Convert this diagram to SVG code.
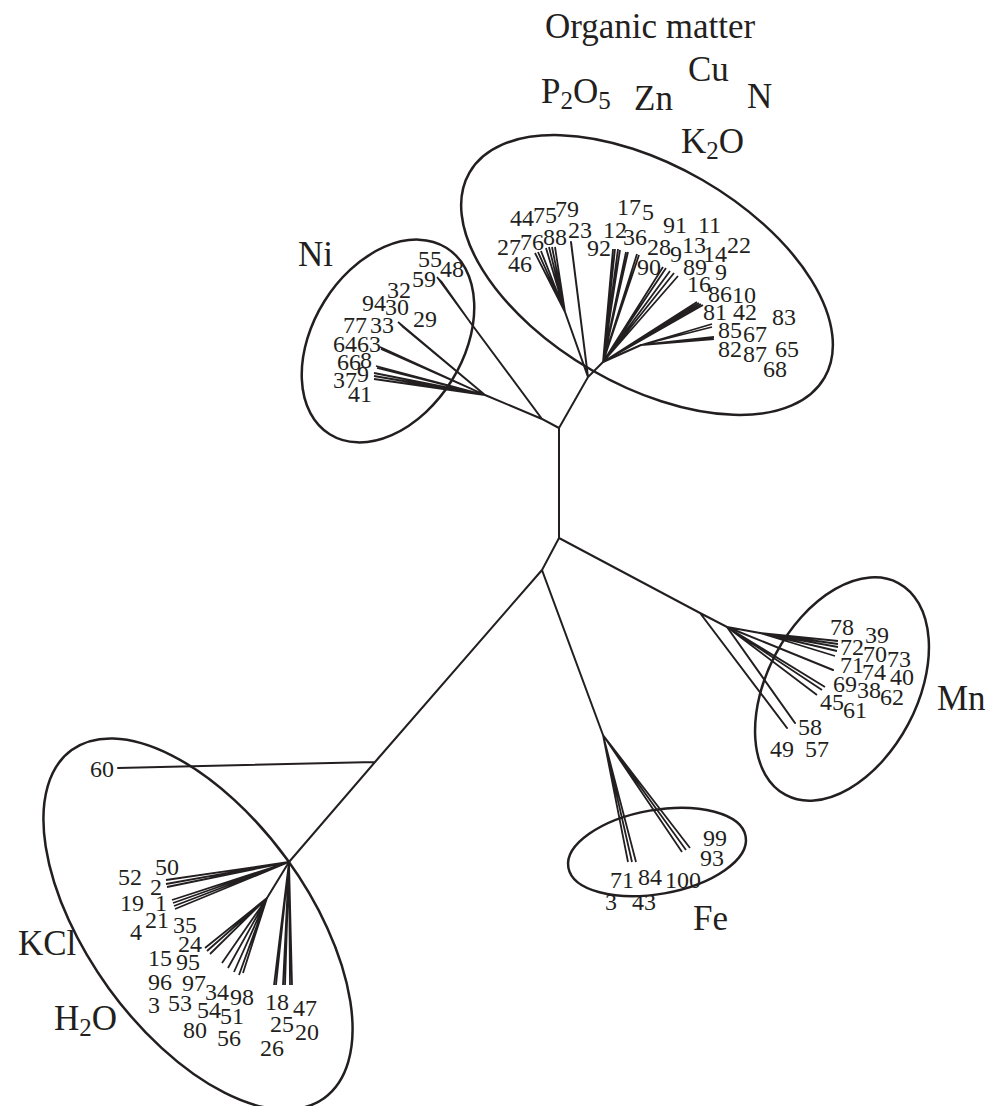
<svg xmlns="http://www.w3.org/2000/svg" width="992" height="1106" viewBox="0 0 992 1106">
<style>
text{font-family:"Liberation Serif","Times New Roman",serif;fill:#231f20}
.n{font-size:24px}
.lab{font-size:35px}
.sub{font-size:25px}
.br{stroke:#231f20;stroke-width:2;fill:none;stroke-linecap:round}
.tp{stroke:#231f20;stroke-width:1.8;fill:none}
.ell{stroke:#231f20;stroke-width:2.5;fill:none}
</style>
<rect width="992" height="1106" fill="#fff"/>
<g id="connectors">
<path class="br" d="M559,428V538M559,428L588,377L603,362M588,377L571,242M588,377L565,312M559,428L542,419L470,322M542,419L485,395M559,538L700,613L727,627L760,633M700,613L787,728M727,627L795,723M727,627L833,670M559,538L542,570L603,735M542,570L375,762L289,862M375,762L118,768M289,862L267,898M603,362L641,345"/>
<path class="tp" d="M565,312L535,253M565,312L538,252M565,312L541,251M565,312L546,248M565,312L549,247M565,312L552,247M565,312L555,247M603,362L613,249M603,362L615,249M603,362L618,249M603,362L620,250M603,362L626,252M603,362L628,252M603,362L637,254M603,362L639,255M603,362L663,267M603,362L666,268M603,362L670,271M603,362L674,273M603,362L678,276M603,362L697,302M603,362L699,303M603,362L701,304M603,362L703,305M641,345L712,324M641,345L712,327M641,345L714,337M641,345L714,339"/>
<path class="tp" d="M470,322L437,277M470,322L439,279M470,322L441,281M485,395L398,322M485,395L400,324M485,395L402,326M485,395L380,347M485,395L381,349M485,395L376,366M485,395L377,368M485,395L374,373M485,395L374,376M485,395L374,379"/>
<path class="tp" d="M727,627L817,695M727,627L822,690M727,627L825,687M760,633L838,641M760,633L838,644M760,633L838,647M760,633L837,651M760,633L835,656"/>
<path class="tp" d="M603,735L628,862M603,735L632,862M603,735L636,862M603,735L682,852M603,735L686,850M603,735L690,848"/>
<path class="tp" d="M289,862L166,880M289,862L166,884M289,862L167,887M289,862L172,900M289,862L173,903M289,862L174,906M289,862L175,909M267,898L205,948M267,898L207,951M267,898L210,954M267,898L222,963M267,898L228,968M267,898L234,972M267,898L239,975M267,898L243,973M289,862L274,985M289,862L276,985M289,862L283,985M289,862L285,985M289,862L290,985M289,862L292,985"/>
</g>
<g id="cluster-top">
<ellipse class="ell" cx="647" cy="275" rx="205" ry="110" transform="rotate(30 647 275)"/>
<text class="n" x="510" y="226">44</text><text class="n" x="533" y="223">75</text><text class="n" x="555" y="217">79</text>
<text class="n" x="497" y="255">27</text><text class="n" x="520" y="250">76</text><text class="n" x="543" y="245">88</text><text class="n" x="568" y="238">23</text>
<text class="n" x="508" y="272">46</text>
<text class="n" x="617" y="215">17</text><text class="n" x="642" y="220">5</text>
<text class="n" x="603" y="238">12</text><text class="n" x="587" y="256">92</text><text class="n" x="623" y="245">36</text>
<text class="n" x="663" y="233">91</text><text class="n" x="698" y="233">11</text>
<text class="n" x="647" y="255">28</text><text class="n" x="670" y="262">9</text><text class="n" x="682" y="253">13</text><text class="n" x="703" y="262">14</text><text class="n" x="727" y="253">22</text>
<text class="n" x="637" y="275">90</text><text class="n" x="683" y="275">89</text><text class="n" x="715" y="280">9</text>
<text class="n" x="687" y="292">16</text><text class="n" x="708" y="302">86</text><text class="n" x="732" y="303">10</text>
<text class="n" x="703" y="320">81</text><text class="n" x="733" y="320">42</text><text class="n" x="772" y="325">83</text>
<text class="n" x="718" y="338">85</text><text class="n" x="743" y="342">67</text>
<text class="n" x="718" y="357">82</text><text class="n" x="743" y="362">87</text><text class="n" x="775" y="357">65</text>
<text class="n" x="763" y="377">68</text>
</g>
<g id="cluster-ni">
<ellipse class="ell" cx="388" cy="341" rx="110" ry="75" transform="rotate(-58 388 341)"/>
<text class="lab" x="298" y="266">Ni</text>
<text class="n" x="418" y="267">55</text><text class="n" x="440" y="277">48</text><text class="n" x="412" y="287">59</text>
<text class="n" x="387" y="298">32</text><text class="n" x="362" y="311">94</text><text class="n" x="385" y="315">30</text><text class="n" x="413" y="327">29</text>
<text class="n" x="343" y="333">77</text><text class="n" x="370" y="333">33</text>
<text class="n" x="333" y="352">64</text><text class="n" x="357" y="352">63</text>
<text class="n" x="337" y="370">66</text><text class="n" x="360" y="368">8</text>
<text class="n" x="333" y="388">37</text><text class="n" x="357" y="382">9</text>
<text class="n" x="348" y="402">41</text>
</g>
<g id="cluster-mn">
<ellipse class="ell" cx="842" cy="689" rx="120" ry="75" transform="rotate(-62 842 689)"/>
<text class="lab" x="937" y="710">Mn</text>
<text class="n" x="830" y="635">78</text><text class="n" x="865" y="643">39</text>
<text class="n" x="840" y="655">72</text><text class="n" x="863" y="662">70</text><text class="n" x="887" y="667">73</text>
<text class="n" x="840" y="673">71</text><text class="n" x="862" y="680">74</text><text class="n" x="890" y="685">40</text>
<text class="n" x="833" y="692">69</text><text class="n" x="857" y="698">38</text><text class="n" x="880" y="705">62</text>
<text class="n" x="820" y="710">45</text><text class="n" x="843" y="718">61</text>
<text class="n" x="798" y="735">58</text>
<text class="n" x="770" y="757">49</text><text class="n" x="805" y="757">57</text>
</g>
<g id="cluster-fe">
<ellipse class="ell" cx="657" cy="852" rx="90" ry="42" transform="rotate(-10 657 852)"/>
<text class="n" x="703" y="846">99</text><text class="n" x="700" y="866">93</text>
<text class="n" x="610" y="888">71</text><text class="n" x="638" y="885">84</text><text class="n" x="665" y="888">100</text>
<text class="n" x="605" y="910">3</text><text class="n" x="632" y="910">43</text>
<text class="lab" x="693" y="930">Fe</text>
</g>
<g id="cluster-kcl">
<ellipse class="ell" cx="198" cy="924" rx="215" ry="110" transform="rotate(54 198 924)"/>
<text class="n" x="90" y="777">60</text>
<text class="n" x="155" y="875">50</text><text class="n" x="118" y="885">52</text><text class="n" x="150" y="895">2</text>
<text class="n" x="120" y="911">19</text><text class="n" x="155" y="911">1</text>
<text class="n" x="145" y="928">21</text><text class="n" x="173" y="933">35</text><text class="n" x="130" y="940">4</text>
<text class="n" x="178" y="952">24</text>
<text class="n" x="148" y="966">15</text><text class="n" x="176" y="970">95</text>
<text class="n" x="148" y="990">96</text><text class="n" x="182" y="991">97</text><text class="n" x="205" y="1000">34</text><text class="n" x="230" y="1005">98</text>
<text class="n" x="148" y="1013">3</text><text class="n" x="168" y="1011">53</text><text class="n" x="197" y="1018">54</text><text class="n" x="220" y="1024">51</text>
<text class="n" x="183" y="1038">80</text><text class="n" x="217" y="1046">56</text>
<text class="n" x="265" y="1010">18</text><text class="n" x="293" y="1016">47</text>
<text class="n" x="270" y="1032">25</text><text class="n" x="295" y="1040">20</text>
<text class="n" x="260" y="1056">26</text>
<text class="lab" x="18" y="955">KCl</text>
<text class="lab" x="54" y="1030">H<tspan class="sub" dy="6">2</tspan><tspan dy="-6">O</tspan></text>
</g>
<g id="labels-top">
<text class="lab" x="545" y="38">Organic matter</text>
<text class="lab" x="541" y="103">P<tspan class="sub" dy="6">2</tspan><tspan dy="-6">O</tspan><tspan class="sub" dy="6">5</tspan></text>
<text class="lab" x="634" y="110">Zn</text>
<text class="lab" x="688" y="81">Cu</text>
<text class="lab" x="747" y="108">N</text>
<text class="lab" x="681" y="153">K<tspan class="sub" dy="6">2</tspan><tspan dy="-6">O</tspan></text>
</g>
</svg>
